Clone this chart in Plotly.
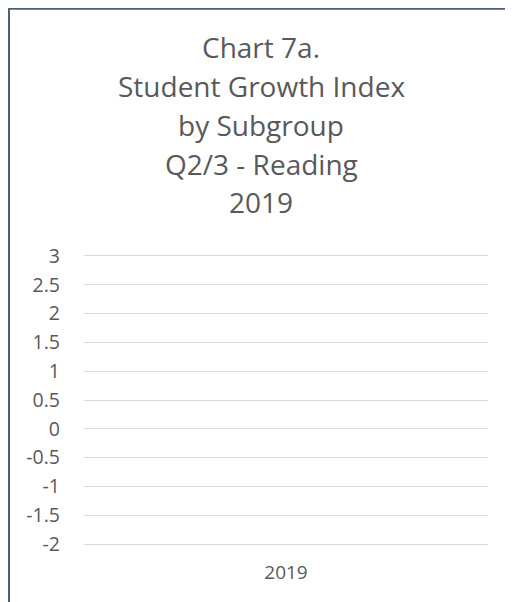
import plotly.graph_objects as go

categories = ["2019"]
series_values = [None]
y_ticks = [3, 2.5, 2, 1.5, 1, 0.5, 0, -0.5, -1, -1.5, -2]
y_tick_labels = ["3", "2.5", "2", "1.5", "1", "0.5", "0", "-0.5", "-1", "-1.5", "-2"]
title_lines = ["Chart 7a.", "Student Growth Index", "by Subgroup", "Q2/3 - Reading", "2019"]

OFF = 8  # browser body margin
W, H = 513 - OFF, 602 - OFF
YMIN, YMAX, EPS = -2, 3, 0.05
top_px, bot_px = 256 - OFF, 544 - OFF
ppu = (bot_px - top_px) / (YMAX - YMIN)
L, R = 84 - OFF, 488 - OFF
T = top_px - EPS * ppu
B = bot_px + EPS * ppu
pw, ph = R - L, B - T

def px(x):
    return (x - OFF - L) / pw

def py(y):
    return (B - (y - OFF)) / ph

fig = go.Figure()
fig.add_trace(go.Bar(x=categories, y=series_values, showlegend=False, hoverinfo="skip"))

font = "Open Sans"
txt = "#595959"

baselines = [57, 96, 135, 174, 212]
for line, bl in zip(title_lines, baselines):
    fig.add_annotation(text=line, xref="paper", yref="paper", x=px(261), y=py(bl - 10),
                       showarrow=False, xanchor="center", yanchor="middle",
                       font=dict(family=font, size=28, color=txt))

fig.add_shape(type="rect", xref="paper", yref="paper", x0=px(OFF + 1), x1=px(540), y0=py(OFF + 1), y1=py(640),
              line=dict(color="#4d5e75", width=2), fillcolor="rgba(0,0,0,0)", layer="above")

fig.update_layout(
    width=W, height=H,
    margin=dict(l=L, r=W - R, t=T, b=H - B, pad=0, autoexpand=False),
    paper_bgcolor="white", plot_bgcolor="white",
    xaxis=dict(type="category", showgrid=False, zeroline=False, showline=False, ticks="",
               ticklabelstandoff=12,
               tickfont=dict(family=font, size=19, color=txt), range=[-0.5, 0.5]),
    yaxis=dict(range=[YMIN - EPS, YMAX + EPS], tickvals=y_ticks, ticktext=y_tick_labels, showgrid=True,
               gridcolor="#d9d9d9", gridwidth=1, zeroline=False, showline=False, ticks="",
               ticklabelstandoff=23,
               tickfont=dict(family=font, size=19.5, color=txt)),
)

fig.write_html("out.html")
